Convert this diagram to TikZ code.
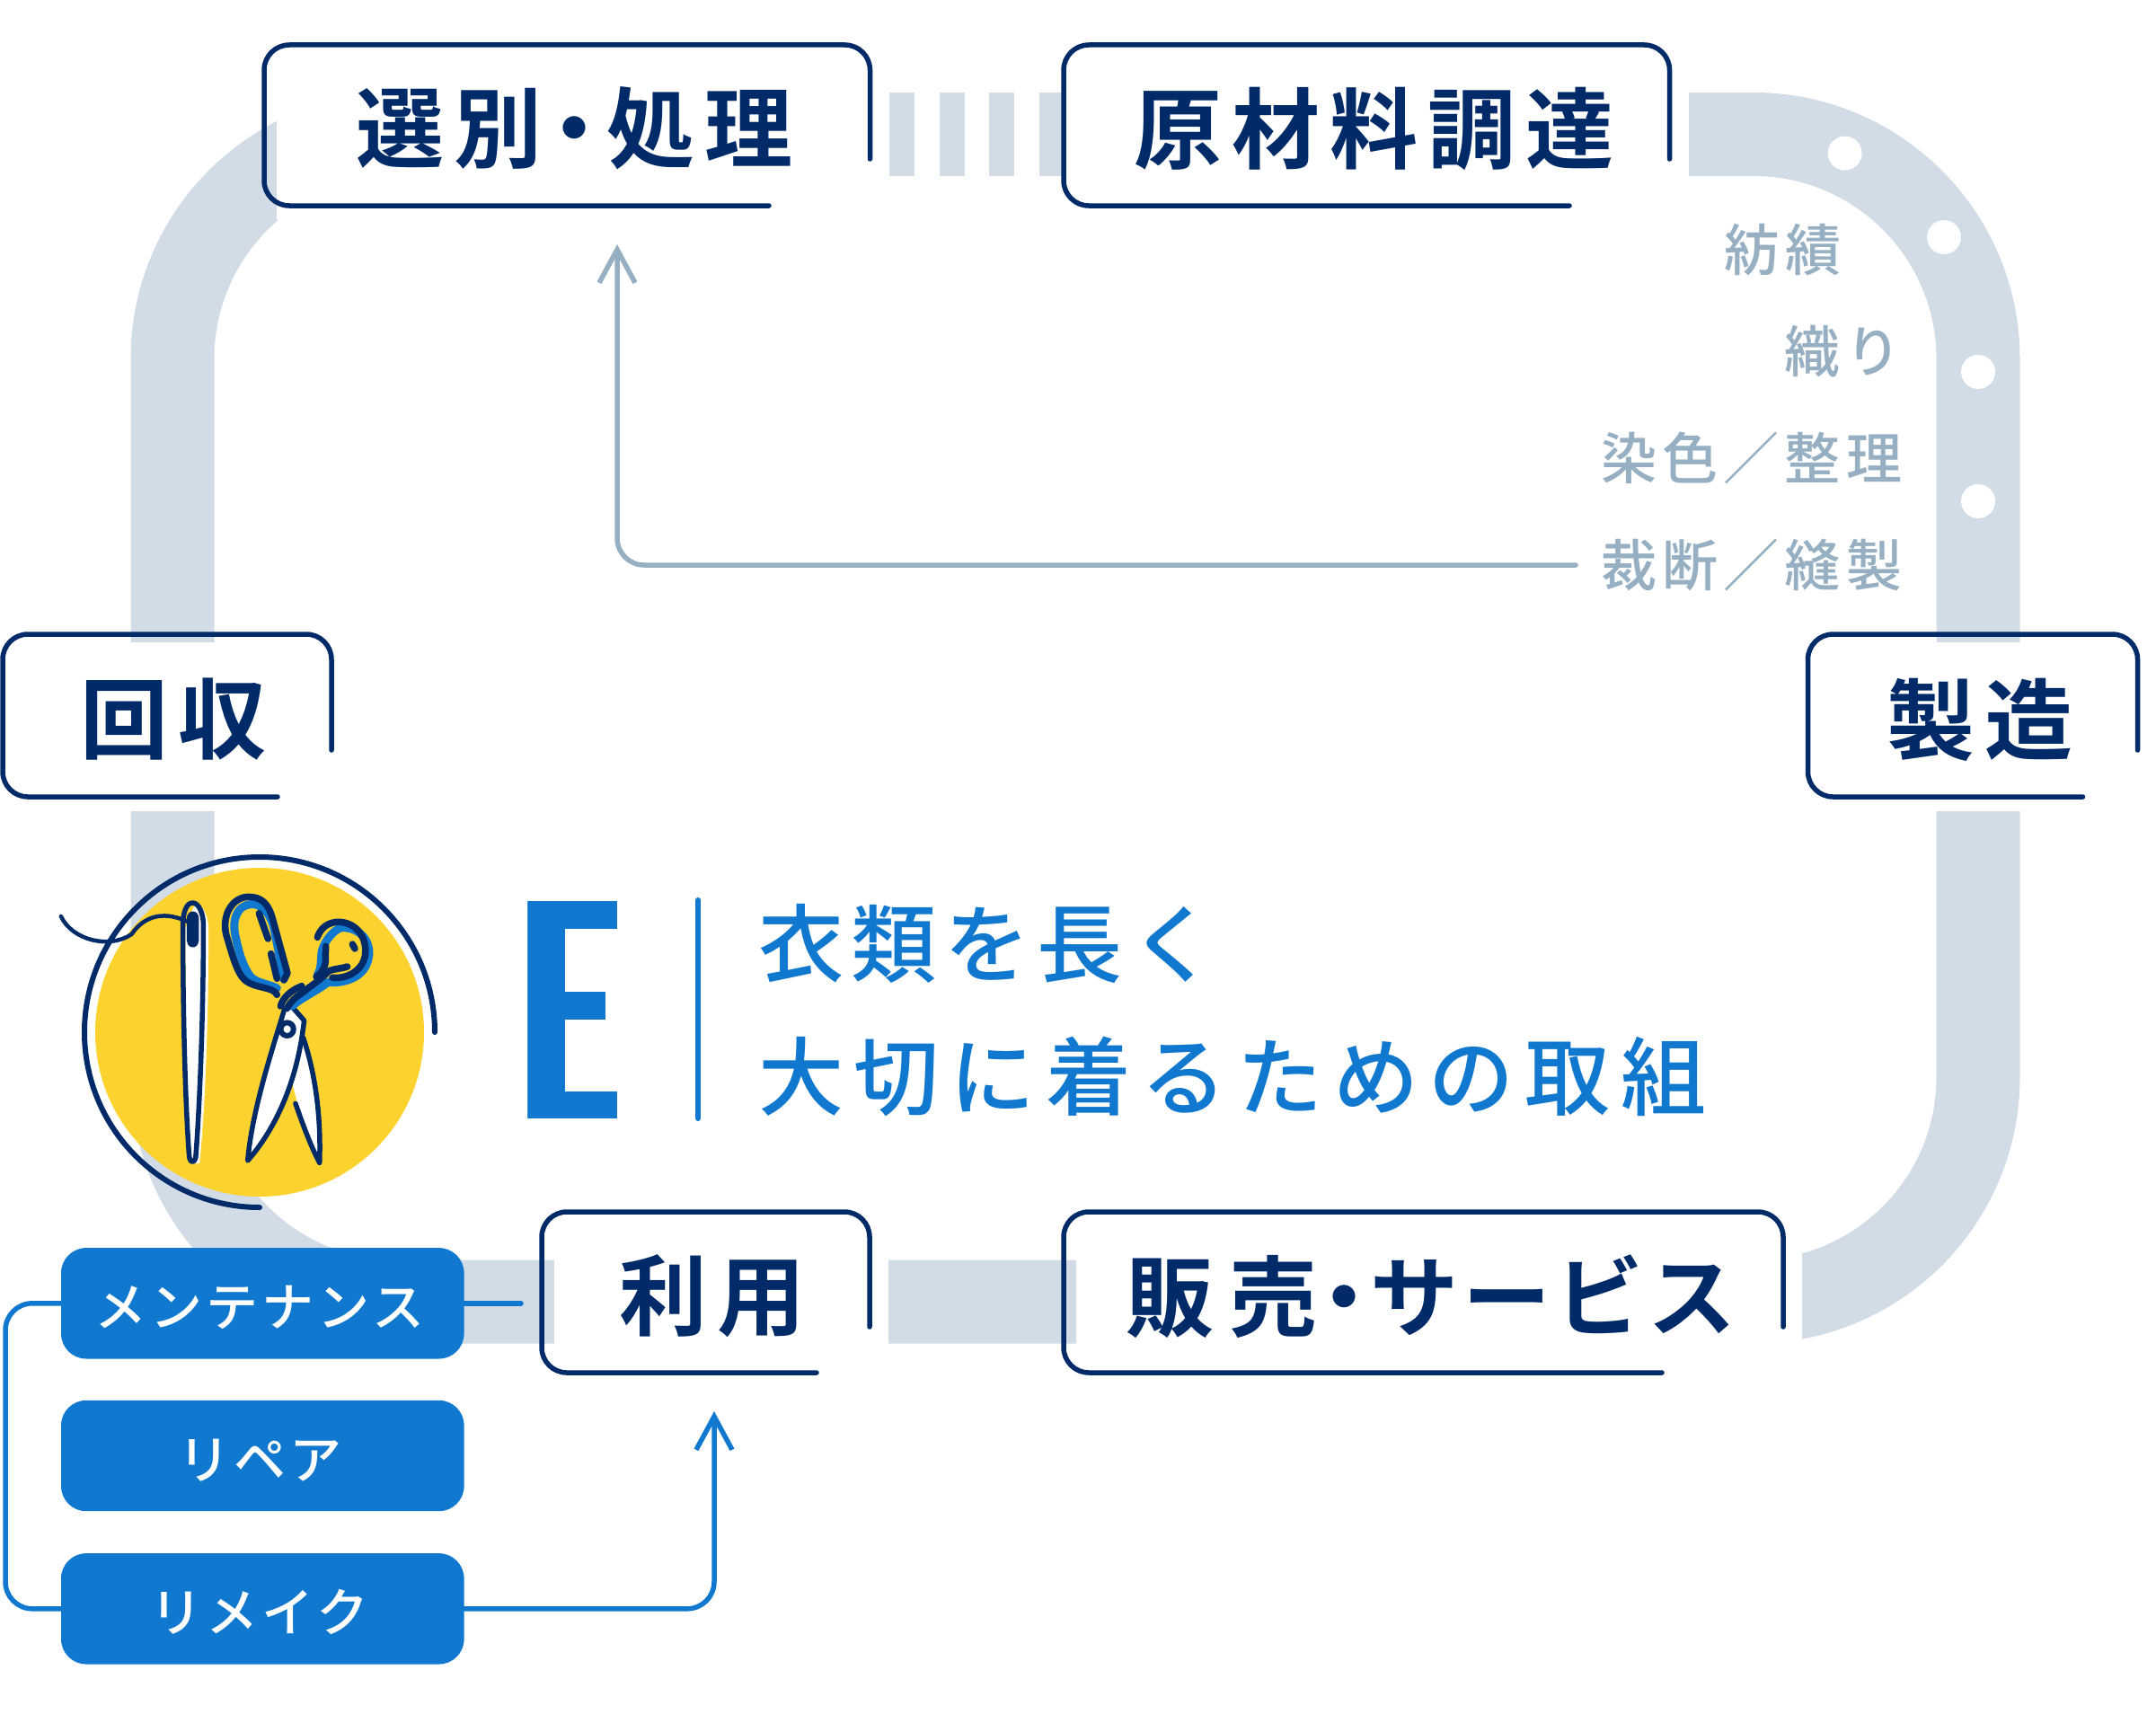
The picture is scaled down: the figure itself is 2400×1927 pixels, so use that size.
\documentclass[tikz,border=0pt]{standalone}
\usepackage{fontspec}
\usetikzlibrary{arrows.meta}
\newfontfamily\headfont[LetterSpace=11]{Noto Sans CJK JP Bold}
\newfontfamily\leadfont[LetterSpace=12.3]{Noto Sans CJK JP Medium}
\newfontfamily\leadtight[LetterSpace=9]{Noto Sans CJK JP Medium}
\newfontfamily\stepfont[LetterSpace=10]{Noto Sans CJK JP Medium}
\newfontfamily\btnfont[LetterSpace=7]{Noto Sans CJK JP Medium}
\newfontfamily\efont{DejaVu Sans Bold}
\definecolor{band}{HTML}{D2DCE7}
\definecolor{navy}{HTML}{002A68}
\definecolor{sunny}{HTML}{FCD32E}
\definecolor{bluefill}{HTML}{1078CF}
\definecolor{slate}{HTML}{97AFC2}
\tikzset{
  boxline/.style={draw=navy,line width=5.5pt,line cap=round,rounded corners=28pt},
  head/.style={text=navy,font=\headfont\fontsize{98}{98}\selectfont,inner sep=0pt},
  lead/.style={text=bluefill,font=\leadfont\fontsize{95}{95}\selectfont,inner sep=0pt,anchor=west},
  steptext/.style={text=slate,font=\stepfont\fontsize{62}{62}\selectfont,inner sep=0pt,anchor=west},
  btn/.style={fill=bluefill,rounded corners=28pt,minimum width=448.6pt,minimum height=123.4pt,inner sep=0pt,text=white,text height=58pt,text depth=7pt,font=\btnfont\fontsize{58}{58}\selectfont},
  conn/.style={line width=5.5pt,line cap=round},
  tool/.style={draw=navy,line width=5.5pt,line cap=round,line join=round},
  grip/.style={draw=navy,line width=7.5pt,line cap=round,line join=round},
  gripblue/.style={draw=bluefill,line width=9pt,line cap=round,line join=round},
}
\newcommand{\tagbox}[6]{%
  \fill[white] (#1+14,#2+9) rectangle (#3+21,#4+16);
  \draw[boxline] (#3,#5) -- (#3,#2) -- (#1,#2) -- (#1,#4) -- (#6,#4);
}
\newcommand{\btntext}[1]{#1\kern6pt}
\begin{document}
\begin{tikzpicture}[x=1pt,y=-1pt]
\useasboundingbox (0,0) rectangle (2400,1927);
% track
\draw[band,line width=93pt,rounded corners=250pt] (500,149.5) -- (192,149.5) -- (192,1449) -- (2202,1449) -- (2202,149.5) -- (1600,149.5);
\foreach \sx in {989.5,1045.7,1101.4,1157}
  \fill[band] (\sx,103) rectangle (\sx+28,196);
\foreach \dx/\dy in {2053.6/170.6,2164/264,2202/414,2202/558}
  \fill[white] (\dx,\dy) circle (19);
% labelled boxes
\tagbox{294}{50}{968.5}{229}{177}{856}
\tagbox{1184}{50}{1858.5}{229}{177}{1747}
\tagbox{3}{706}{369}{887}{835}{309}
\tagbox{2012.5}{706}{2379.5}{887}{835}{2318.5}
\tagbox{603}{1349}{968}{1528}{1477}{909}
\tagbox{1184}{1349}{1985}{1528}{1477}{1850}
\node[head] (sel) at (639.5,143) {選別\kern-.13em・\kern-.13em 処理};
\node[head] (raw) at (1529.5,143) {原材料調達};
\node[head] (col) at (193,801) {回収};
\node[head] (mfg) at (2204,801) {製造};
\node[head] (use) at (793,1443) {利用};
\node[head] (sal) at (1593,1443) {販\kern.18em 売\kern-.20em・\kern-.20em サ\kern.05em ー\kern.05em ビ\kern.05em ス};
% process steps
\node[steptext] (s1) at (1919,278) {紡績};
\node[steptext] (s2) at (1986,391) {織り};
\node[steptext] (s3) at (1782,510) {染色／整理};
\node[steptext] (s4) at (1782,629) {裁断／縫製};
\coordinate (greyfrom) at (1754,629);
\coordinate (greyto) at (687,272);
\draw[conn,slate,rounded corners=30pt,-{Straight Barb[length=37pt,width=40pt,line width=5.5pt]}] (greyfrom) -| (greyto);
% emblem
\fill[sunny] (289,1149) circle (183);
\draw[navy,line width=6pt,line cap=round] (484,1149) arc[start angle=0,end angle=-270,radius=195];
\begin{scope}[shift={(0,900)},xscale=0.35714,yscale=0.33333]
  % needle
  \fill[white] (610,312) .. controls (630,320) and (650,360) .. (650,400) .. controls (650,700) and (640,1000) .. (622,1185) -- (600,1185) .. controls (580,1000) and (578,700) .. (578,400) -- cycle;
  \draw[tool] (600,315) .. controls (580,315) and (570,350) .. (570,390) .. controls (570,700) and (578,1000) .. (590,1165) .. controls (595,1185) and (605,1185) .. (610,1165) .. controls (622,1000) and (634,700) .. (634,390) .. controls (634,350) and (620,315) .. (600,315);
  \draw[tool,line width=7pt] (592,365) .. controls (592,350) and (610,350) .. (610,365) -- (610,440) .. controls (610,458) and (592,458) .. (592,440) -- cycle;
  % thread
  \draw[navy,line width=4.5pt,line cap=round] (190,360) .. controls (225,440) and (340,470) .. (410,420) .. controls (455,350) and (520,345) .. (585,378);
  % back blade
  \fill[white] (945,765) .. controls (975,860) and (1002,1000) .. (998,1185) .. controls (970,1130) and (940,1050) .. (905,890) -- cycle;
  \draw[tool] (945,765) .. controls (975,860) and (1002,1000) .. (996,1183) .. controls (970,1130) and (945,1060) .. (921,985);
  % front blade
  \filldraw[tool,fill=white] (886,672) .. controls (850,800) and (785,1010) .. (772,1176) .. controls (850,1080) and (925,930) .. (948,708) -- (912,664);
  \draw[tool,line width=6pt] (895,737) ellipse (20 and 22);
\end{scope}
\begin{scope}[shift={(230,990)},scale=0.33333]
  % handles: blue band under navy strokes
  \draw[gripblue] (258,300) -- (225,130) .. controls (210,70) and (175,45) .. (145,50) .. controls (105,55) and (85,95) .. (95,150) .. controls (105,200) and (120,260) .. (150,295) .. controls (175,315) and (205,315) .. (235,330);
  \draw[gripblue] (285,390) .. controls (320,360) and (375,335) .. (405,310) .. controls (440,315) and (540,305) .. (543,210) .. controls (540,150) and (490,125) .. (450,128) .. controls (425,135) and (395,170) .. (385,205) .. controls (380,235) and (385,265) .. (370,285);
  \draw[grip] (235,352) .. controls (225,325) and (165,332) .. (130,305) .. controls (100,280) and (85,215) .. (65,150) .. controls (50,80) and (90,25) .. (140,25) .. controls (185,25) and (205,50) .. (218,90) -- (270,280) -- (258,303);
  \draw[grip] (175,80) -- (205,165);
  \draw[grip] (215,215) -- (235,298);
  \draw[grip] (370,160) .. controls (385,115) and (425,105) .. (455,110) .. controls (510,120) and (535,170) .. (530,215) .. controls (525,270) and (470,300) .. (420,295);
  \draw[grip] (487,183) -- (495,198);
  \draw[grip] (470,258) .. controls (450,265) and (420,265) .. (405,275) .. controls (385,300) and (350,320) .. (320,345) .. controls (295,362) and (280,375) .. (268,398);
  \draw[grip] (366,292) .. controls (390,275) and (400,250) .. (397,225) -- (398,190);
  \draw[grip] (318,323) .. controls (285,335) and (255,360) .. (247,390);
\end{scope}
% title
\node[text=bluefill,inner sep=0pt,font=\efont\fontsize{332}{332}\selectfont,xscale=.76,transform shape] (bigE) at (650.5,1124.5) {E};
\fill[white] (629.3,1034) rectangle (740,1104.3);
\fill[white] (674.3,1100) rectangle (740,1140);
\fill[white] (629.3,1135) rectangle (740,1215);
\fill[white] (687.3,990) rectangle (740,1260);
\coordinate (rulet) at (777,1002);
\coordinate (ruleb) at (777,1245);
\draw[bluefill,line width=6pt,line cap=round] (rulet) -- (ruleb);
\node[lead,font=\leadtight\fontsize{95}{95}\selectfont] (t1) at (844,1050) {衣類を長く};
\node[lead] (t2) at (844,1198) {大切に着るための取組};
% buttons
\node[btn] (b1) at (292.3,1450.8) {\btntext{メンテナンス}};
\node[btn] (b2) at (292.3,1620.5) {\btntext{リペア}};
\node[btn] (b3) at (292.3,1790.8) {\btntext{リメイク}};
\coordinate (b1end) at (580,1450.8);
\coordinate (usearrow) at (795,1571);
\draw[conn,bluefill] (b1.east) -- (b1end);
\draw[conn,bluefill,rounded corners=30pt,line cap=butt] (b1.west) -- (6,1450.8) -- (6,1790.8) -- (b3.west);
\draw[conn,bluefill,rounded corners=30pt,-{Straight Barb[length=37pt,width=40pt,line width=5.5pt]}] (b3.east) -| (usearrow);
\end{tikzpicture}
\end{document}
